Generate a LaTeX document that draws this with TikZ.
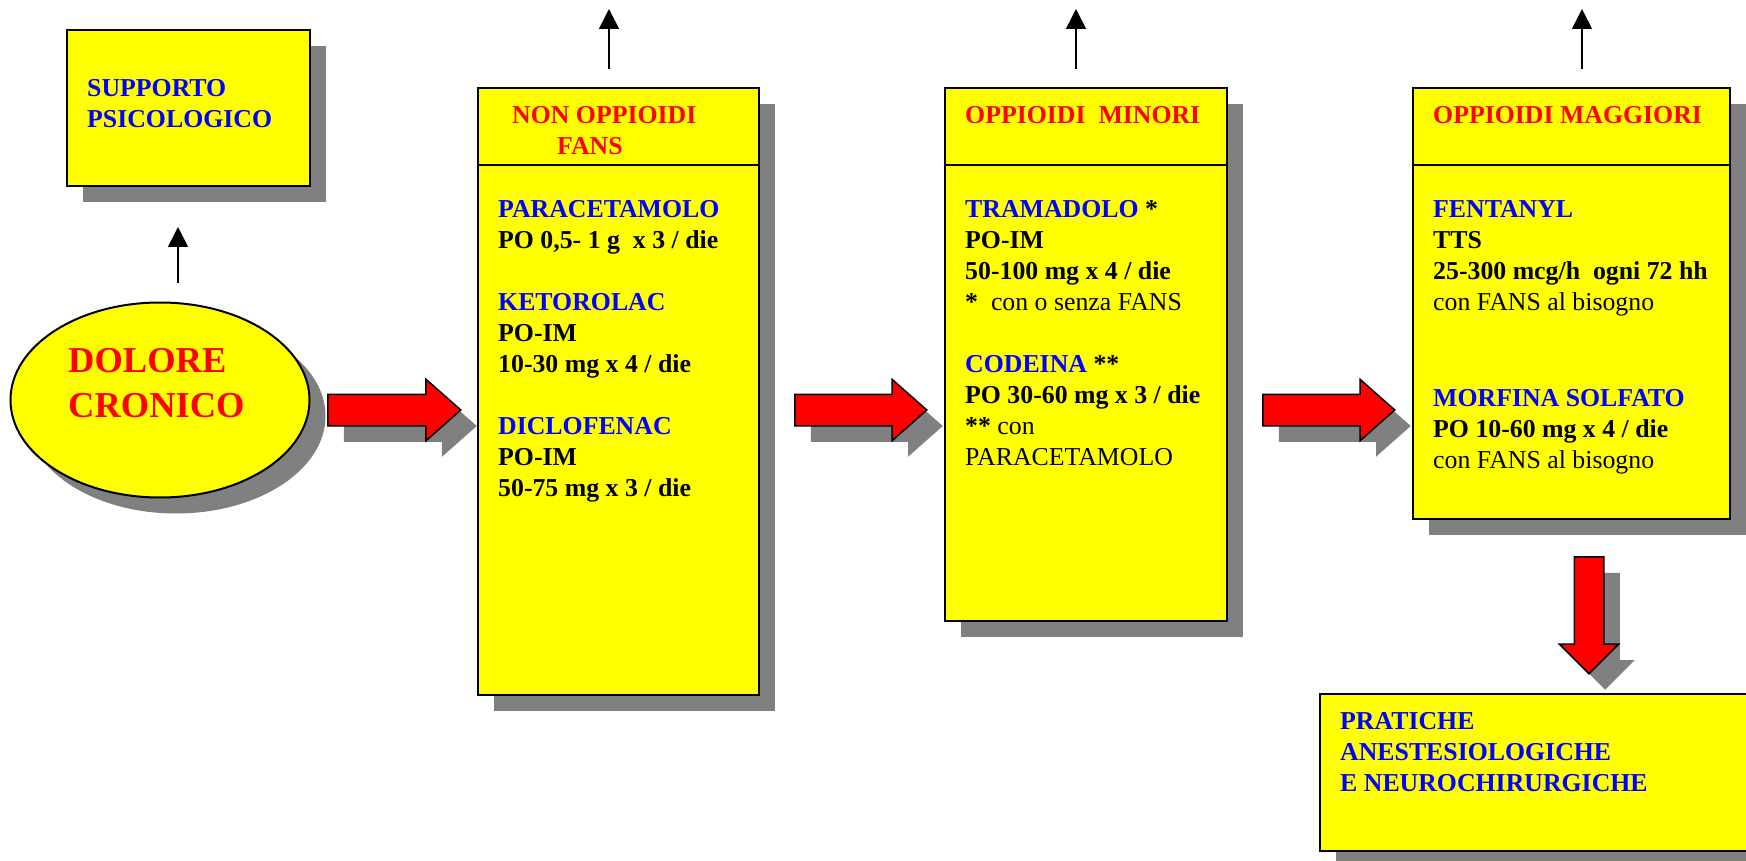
\documentclass[tikz,border=0pt]{standalone}
\usepackage{fontspec}
\setmainfont{Liberation Serif}
\usepackage{xcolor}
\definecolor{boxyellow}{RGB}{255,255,0}
\usetikzlibrary{shapes.geometric, shapes.arrows, arrows.meta, positioning, shadows}

\begin{document}
\begin{tikzpicture}[
    x=1pt, y=-1pt,
    grayshadow/.style={drop shadow={shadow xshift=16pt, shadow yshift=-16pt, fill=gray, opacity=1}},
    box/.style={rectangle, draw, line width=2pt, fill=boxyellow, grayshadow, anchor=north west, inner sep=0pt},
    txt/.style={anchor=north west, inner sep=0pt, align=left, font=\fontsize{25.8}{31}\selectfont\bfseries},
    hdr/.style={txt, text=red},
    drug/.style={txt, text=blue},
    redarrow/.style={single arrow, draw, line width=1.5pt, fill=red, grayshadow, inner sep=15pt, single arrow head extend=15pt, single arrow tip angle=83, anchor=tail},
    uparrow/.style={-{Triangle[width=20pt, length=20pt]}, line width=1.6pt}
]
    \useasboundingbox (0,0) rectangle (1746,861);
    \clip (0,0) rectangle (1746,861);

    % boxes
    \node[box, minimum width=243pt, minimum height=156pt] (sup) at (66,29) {};
    \node[ellipse, draw, line width=2pt, fill=boxyellow, grayshadow, minimum width=299pt, minimum height=195pt, inner sep=0pt] (dolore) at (160,400) {};
    \node[box, minimum width=281pt, minimum height=607pt] (box2) at (477,87) {};
    \node[box, minimum width=282pt, minimum height=533pt] (box3) at (944,87) {};
    \node[box, minimum width=317pt, minimum height=431pt] (box4) at (1412,87) {};
    \node[box, minimum width=471pt, minimum height=157pt] (prat) at (1319,693) {};

    \draw[line width=2pt] ([yshift=-78pt]box2.north west) -- ([yshift=-78pt]box2.north east);
    \draw[line width=2pt] ([yshift=-78pt]box3.north west) -- ([yshift=-78pt]box3.north east);
    \draw[line width=2pt] ([yshift=-78pt]box4.north west) -- ([yshift=-78pt]box4.north east);

    % texts
    \node[drug, below right=50.5pt and 21pt of sup.north west] (suplbl) {SUPPORTO\\PSICOLOGICO};
    \node[anchor=north west, inner sep=0pt, align=left, text=red, font=\fontsize{36.5}{45}\selectfont\bfseries] (dolorelbl) at (68,348) {DOLORE\\CRONICO};

    \node[hdr, below right=19.5pt and 35pt of box2.north west] (hdr2) {NON OPPIOIDI\\\hspace*{45pt}FANS};
    \node[txt, below right=113.5pt and 21pt of box2.north west] (body2) {\textcolor{blue}{PARACETAMOLO}\\PO 0,5- 1 g\ \ x 3 / die\\[31pt]
        \textcolor{blue}{KETOROLAC}\\PO-IM\\10-30 mg x 4 / die\\[31pt]
        \textcolor{blue}{DICLOFENAC}\\PO-IM\\50-75 mg x 3 / die};

    \node[hdr, below right=19.5pt and 21pt of box3.north west] (hdr3) {OPPIOIDI\ \ MINORI};
    \node[txt, below right=113.5pt and 21pt of box3.north west] (body3) {\textcolor{blue}{TRAMADOLO} *\\PO-IM\\50-100 mg x 4 / die\\*\ \ {\mdseries con o senza FANS}\\[31pt]
        \textcolor{blue}{CODEINA} **\\PO 30-60 mg x 3 / die\\** {\mdseries con}\\{\mdseries PARACETAMOLO}};

    \node[hdr, below right=19.5pt and 21pt of box4.north west] (hdr4) {OPPIOIDI MAGGIORI};
    \node[txt, below right=113.5pt and 21pt of box4.north west] (body4) {\textcolor{blue}{FENTANYL}\\TTS\\25-300 mcg/h\ \ ogni 72 hh\\{\mdseries con FANS al bisogno}\\[65pt]
        \textcolor{blue}{MORFINA SOLFATO}\\PO 10-60 mg x 4 / die\\{\mdseries con FANS al bisogno}};

    \node[drug, below right=19.5pt and 21pt of prat.north west] (pratlbl) {PRATICHE\\ANESTESIOLOGICHE\\E NEUROCHIRURGICHE};

    % red arrows
    \node[redarrow, minimum height=133pt] (arr1) at (327,410) {};
    \node[redarrow, minimum height=132pt] (arr2) at (794,410) {};
    \node[redarrow, minimum height=132pt] (arr3) at (1262,410) {};
    \node[redarrow, minimum height=117pt, inner sep=14pt, single arrow tip angle=90, shape border rotate=270] (arr4) at (1589,556) {};

    % up arrows
    \draw[uparrow, shorten <=19pt, shorten >=40pt] ([xshift=18pt]dolore.north) -- ([xshift=18pt]dolore.north |- sup.south);
    \draw[uparrow, shorten <=18pt] ([xshift=-9.5pt]box2.north) -- ++(0,-78);
    \draw[uparrow, shorten <=18pt] ([xshift=-10pt]box3.north) -- ++(0,-78);
    \draw[uparrow, shorten <=18pt] ([xshift=10.5pt]box4.north) -- ++(0,-78);
\end{tikzpicture}
\end{document}
